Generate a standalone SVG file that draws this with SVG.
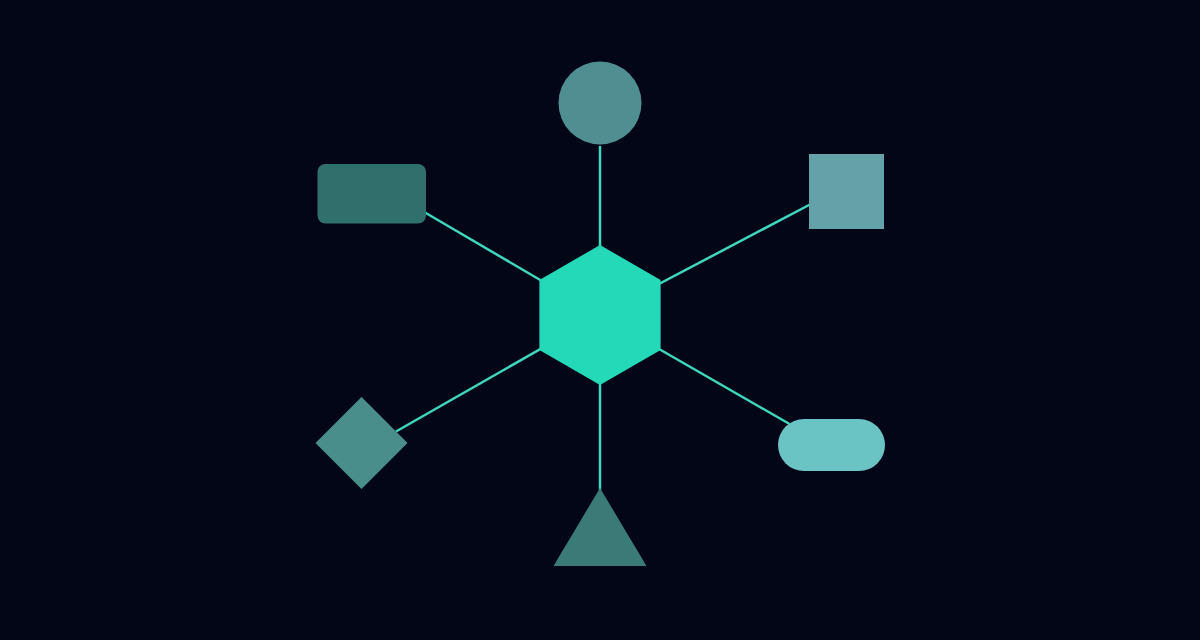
<svg xmlns="http://www.w3.org/2000/svg" width="1200" height="640" viewBox="0 0 1200 640">
  <style>
    .link { stroke: #3fd6be; stroke-width: 2.5; fill: none; stroke-linecap: butt; }
  </style>
  <rect width="1200" height="640" fill="#020617"/>
  <g id="connectors">
    <line class="link" x1="600" y1="315" x2="600" y2="146"/>
    <line class="link" x1="600" y1="315" x2="810" y2="204.5"/>
    <line class="link" x1="600" y1="315" x2="789.5" y2="424"/>
    <line class="link" x1="600" y1="315" x2="600" y2="490"/>
    <line class="link" x1="600" y1="315" x2="396" y2="431.5"/>
    <line class="link" x1="600" y1="315" x2="425" y2="212.5"/>
  </g>
  <g id="node-circle">
    <circle cx="600" cy="103" r="41.5" fill="#4f8f92"/>
  </g>
  <g id="node-square">
    <rect x="809" y="154" width="75" height="75" fill="#62a2a8"/>
  </g>
  <g id="node-pill">
    <rect x="778" y="419" width="107" height="52" rx="26" fill="#6bc4c4"/>
  </g>
  <g id="node-triangle">
    <polygon points="600,488 646.5,566 553.5,566" fill="#3b7b77"/>
  </g>
  <g id="node-diamond">
    <polygon points="361.5,397 407.5,443 361.5,489 315.5,443" fill="#4a8e8c"/>
  </g>
  <g id="node-rect">
    <rect x="317.5" y="164" width="108.5" height="59.5" rx="8" fill="#2f6f6c"/>
  </g>
  <g id="node-hexagon">
    <polygon points="600,245 660.6,280 660.6,350 600,385 539.4,350 539.4,280" fill="#24d9b8"/>
  </g>
</svg>
